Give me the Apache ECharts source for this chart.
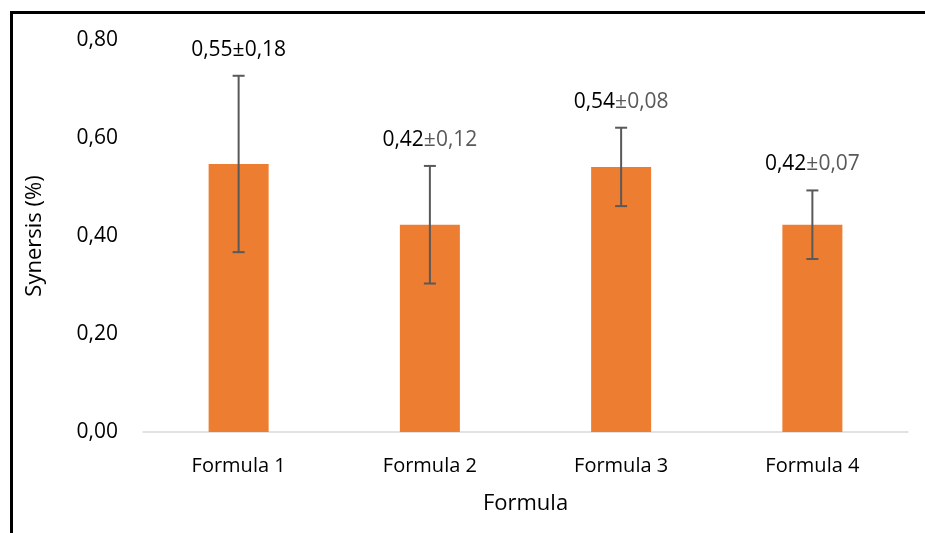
<!DOCTYPE html>
<html><head><meta charset="utf-8">
<script src="https://cdn.jsdelivr.net/npm/echarts@6/dist/echarts.min.js"></script>
<style>html,body{margin:0;padding:0;background:#fff}#c{width:925px;height:533px}</style>
</head><body><div id="c"></div>
<script>
const categories = ['Formula 1', 'Formula 2', 'Formula 3', 'Formula 4'];
const means = [0.547, 0.423, 0.541, 0.423];
const errors = [0.18, 0.12, 0.08, 0.07];
const meanText = ['0,55', '0,42', '0,54', '0,42'];
const errText = ['0,18', '0,12', '0,08', '0,07'];
const yTicks = [0, 0.2, 0.4, 0.6, 0.8];

const FONT = '"Open Sans", "Noto Sans", sans-serif';
const chart = echarts.init(document.getElementById('c'));
const errData = means.map((m, i) => [i, m - errors[i], m + errors[i]]);

chart.setOption({
  animation: false,
  backgroundColor: '#fff',
  grid: { left: 143, right: 17, top: 40, bottom: 101 },
  graphic: [{
    type: 'rect', left: 9, top: 10, z: 100,
    shape: { width: 940, height: 560 },
    style: { fill: 'none', stroke: '#000', lineWidth: 3 }
  }],
  xAxis: {
    type: 'category', data: categories,
    name: 'Formula', nameLocation: 'middle', nameGap: 61,
    nameTextStyle: { fontFamily: FONT, fontSize: 22, color: '#000' },
    axisLine: { lineStyle: { color: '#d9d9d9', width: 1.5 } },
    axisTick: { show: false },
    axisLabel: { fontFamily: FONT, fontSize: 20, color: '#000', margin: 24 }
  },
  yAxis: {
    type: 'value', min: 0, max: 0.8, interval: 0.2,
    name: 'Synersis (%)', nameLocation: 'middle', nameGap: 97,
    nameTextStyle: { fontFamily: FONT, fontSize: 22, color: '#000' },
    splitLine: { show: false },
    axisLine: { show: false }, axisTick: { show: false },
    axisLabel: { fontFamily: FONT, fontSize: 21, color: '#000', margin: 25,
      formatter: v => yTicks.some(t => Math.abs(t - v) < 1e-9) ? v.toFixed(2).replace('.', ',') : '' }
  },
  series: [{
    type: 'bar', data: means, barWidth: 60,
    itemStyle: { color: '#ed7d31' }
  }, {
    type: 'custom', data: errData, z: 10,
    renderItem: (params, api) => {
      const i = api.value(0);
      const lo = api.coord([i, api.value(1)]);
      const hi = api.coord([i, api.value(2)]);
      const x = lo[0], hw = 6;
      const style = { stroke: '#595959', lineWidth: 2 };
      const first = i === 0;
      return {
        type: 'group', children: [
          { type: 'line', shape: { x1: x, y1: hi[1], x2: x, y2: lo[1] }, style },
          { type: 'line', shape: { x1: x - hw, y1: hi[1], x2: x + hw, y2: hi[1] }, style },
          { type: 'line', shape: { x1: x - hw, y1: lo[1], x2: x + hw, y2: lo[1] }, style },
          { type: 'text', x: x, y: hi[1] - 26,
            style: {
              text: '{a|' + meanText[i] + '}{b|±' + errText[i] + '}',
              align: 'center', verticalAlign: 'middle',
              rich: {
                a: { fontFamily: FONT, fontSize: 21, fill: '#000' },
                b: { fontFamily: FONT, fontSize: 21, fill: first ? '#000' : '#595959' }
              }
            } }
        ]
      };
    }
  }]
});
</script></body></html>
